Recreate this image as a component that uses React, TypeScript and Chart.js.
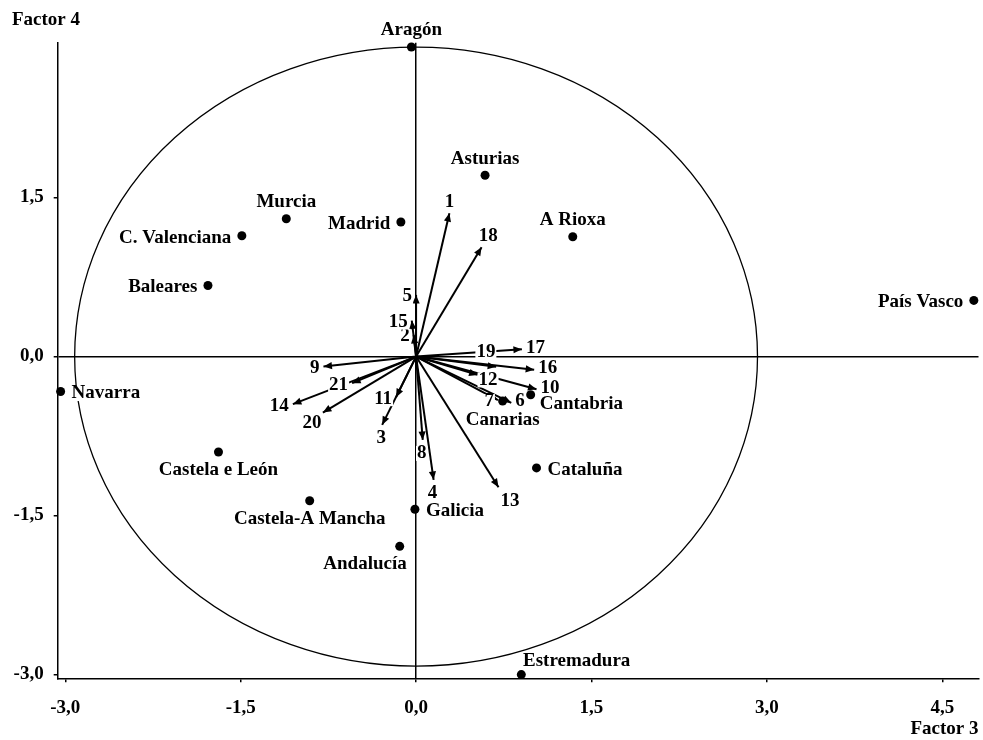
import React, { useEffect, useRef } from 'react';
import { Chart, registerables } from 'chart.js';

Chart.register(...registerables);

// ---- Data (Factor 3 = x, Factor 4 = y) ----
const regionNames = [
  'Aragón', 'Asturias', 'A Rioxa', 'Murcia', 'Madrid', 'C. Valenciana', 'Baleares',
  'Navarra', 'Castela e León', 'Castela-A Mancha', 'Galicia', 'Andalucía',
  'Estremadura', 'País Vasco', 'Cantabria', 'Cataluña', 'Canarias',
];
const regionFactor3 = [-0.04, 0.59, 1.34, -1.11, -0.13, -1.49, -1.78, -3.04, -1.69, -0.91, -0.01, -0.14, 0.90, 4.77, 0.98, 1.03, 0.74];
const regionFactor4 = [2.92, 1.71, 1.13, 1.30, 1.27, 1.14, 0.67, -0.33, -0.90, -1.36, -1.44, -1.79, -3.00, 0.53, -0.36, -1.05, -0.42];
const regionLabelPlacement = [
  'top', 'top', 'top', 'top', 'left', 'left', 'left', 'right', 'bottom', 'bottom',
  'right', 'bottomLeft', 'topRight', 'left', 'rightBelow', 'right', 'bottom',
];

const variableNames = ['1', '2', '3', '4', '5', '6', '7', '8', '9', '10', '11', '12', '13', '14', '15', '16', '17', '18', '19', '20', '21'];
const variableFactor3 = [0.285, -0.02, -0.29, 0.15, 0.0, 0.814, 0.70, 0.057, -0.792, 1.03, -0.171, 0.526, 0.705, -1.054, -0.037, 1.01, 0.905, 0.56, 0.685, -0.797, -0.547];
const variableFactor4 = [1.353, 0.205, -0.644, -1.163, 0.582, -0.436, -0.41, -0.786, -0.094, -0.308, -0.383, -0.173, -1.232, -0.449, 0.34, -0.125, 0.07, 1.032, -0.097, -0.528, -0.251];
const variableLabelPlacement = [
  'top', 'left', 'bottom', 'bottom', 'left', 'right', 'left', 'bottom', 'left', 'right',
  'left', 'rightBelow', 'bottomRight', 'left', 'left', 'right', 'right', 'topRight', 'topLeft', 'bottomLeft', 'left',
];

const xTickValues = [-3, -1.5, 0, 1.5, 3, 4.5];
const yTickValues = [-3, -1.5, 0, 1.5];
const circleRadius = 2.92;
const xAxisTitle = 'Factor 3';
const yAxisTitle = 'Factor 4';

const FAMILY = '"Liberation Serif", "Times New Roman", serif';
const FONT_SIZE = 19;

function fmt(v: number) {
  return v.toFixed(1).replace('.', ',');
}

// label offsets (px) per placement keyword
const regionOffsets: any = {
  top: { mode: 'center', dx: 0, dy: -16.5 },
  bottom: { mode: 'center', dx: 0, dy: 18.5 },
  left: { mode: 'rightEdge', dx: -10.5, dy: 2 },
  right: { mode: 'leftEdge', dx: 11, dy: 2 },
  bottomLeft: { mode: 'rightEdge', dx: 7, dy: 17.3 },
  topRight: { mode: 'leftEdge', dx: 1.7, dy: -13.6 },
  rightBelow: { mode: 'leftEdge', dx: 9, dy: 9 },
};
const variableOffsets: any = {
  top: { mode: 'center', dx: 0, dy: -11 },
  bottom: { mode: 'center', dx: -1, dy: 13.5 },
  left: { mode: 'rightEdge', dx: -4, dy: 1.5 },
  right: { mode: 'leftEdge', dx: 4, dy: -1.5 },
  topRight: { mode: 'center', dx: 6.7, dy: -10.6 },
  topLeft: { mode: 'center', dx: -10.3, dy: -14.3 },
  bottomRight: { mode: 'center', dx: 11.4, dy: 14.4 },
  bottomLeft: { mode: 'center', dx: -11, dy: 10.6 },
  rightBelow: { mode: 'leftEdge', dx: 1, dy: 5 },
};

function drawLabel(ctx: CanvasRenderingContext2D, text: string, px: number, py: number, off: any) {
  const w = ctx.measureText(text).width;
  let cx = px + off.dx;
  if (off.mode === 'rightEdge') cx = px + off.dx - w / 2;
  if (off.mode === 'leftEdge') cx = px + off.dx + w / 2;
  const cy = py + off.dy;
  const h = 15;
  ctx.fillStyle = '#ffffff';
  ctx.fillRect(cx - w / 2 - 1, cy - h / 2, w + 2, h);
  ctx.fillStyle = '#000000';
  ctx.fillText(text, cx, cy);
}

export default function App() {
  const canvasRef = useRef<HTMLCanvasElement>(null);

  useEffect(() => {
    const canvas = canvasRef.current;
    if (!canvas) return;

    const circlePlugin = {
      id: 'circlePlugin',
      beforeDatasetsDraw(chart: any) {
        const { ctx } = chart;
        const xs = chart.scales.x;
        const ys = chart.scales.y;
        const cx = xs.getPixelForValue(0);
        const cy = ys.getPixelForValue(0);
        const rx = xs.getPixelForValue(circleRadius) - cx;
        const ry = cy - ys.getPixelForValue(circleRadius);
        ctx.save();
        ctx.beginPath();
        ctx.ellipse(cx, cy, rx, ry, 0, 0, Math.PI * 2);
        ctx.lineWidth = 1.3;
        ctx.strokeStyle = '#000';
        ctx.stroke();
        ctx.restore();
      },
    };

    const arrowPlugin = {
      id: 'arrowPlugin',
      afterDatasetDraw(chart: any, args: any) {
        const ds = chart.data.datasets[args.index];
        if (!ds.isArrow) return;
        const pts = args.meta.data;
        if (!pts || pts.length < 2) return;
        const a = pts[0];
        const b = pts[1];
        const ang = Math.atan2(b.y - a.y, b.x - a.x);
        const L = 8.5;
        const W = 3.6;
        const bx = b.x - L * Math.cos(ang);
        const by = b.y - L * Math.sin(ang);
        const ctx = chart.ctx;
        ctx.save();
        ctx.beginPath();
        ctx.moveTo(b.x, b.y);
        ctx.lineTo(bx + W * Math.sin(ang), by - W * Math.cos(ang));
        ctx.lineTo(bx - W * Math.sin(ang), by + W * Math.cos(ang));
        ctx.closePath();
        ctx.fillStyle = '#000';
        ctx.fill();
        ctx.restore();
      },
    };

    const labelPlugin = {
      id: 'labelPlugin',
      afterDatasetsDraw(chart: any) {
        const ctx = chart.ctx;
        ctx.save();
        ctx.font = `bold ${FONT_SIZE}px ${FAMILY}`;
        ctx.textAlign = 'center';
        ctx.textBaseline = 'middle';
        chart.data.datasets.forEach((ds: any, i: number) => {
          if (!ds.isArrow) return;
          const meta = chart.getDatasetMeta(i);
          const tip = meta.data[1];
          drawLabel(ctx, ds.varName, tip.x, tip.y, variableOffsets[ds.placement]);
        });
        const rmeta = chart.getDatasetMeta(0);
        rmeta.data.forEach((pt: any, j: number) => {
          drawLabel(ctx, regionNames[j], pt.x, pt.y, regionOffsets[regionLabelPlacement[j]]);
        });
        ctx.restore();
      },
    };

    const regionDataset: any = {
      label: 'Rexións',
      data: regionNames.map((_, i) => ({ x: regionFactor3[i], y: regionFactor4[i] })),
      showLine: false,
      pointRadius: 4.5,
      pointHoverRadius: 4.5,
      pointBackgroundColor: '#000',
      pointBorderColor: '#000',
      pointBorderWidth: 0,
      clip: false,
    };

    const arrowDatasets: any[] = variableNames.map((name, i) => ({
      label: name,
      isArrow: true,
      varName: name,
      placement: variableLabelPlacement[i],
      data: [
        { x: 0, y: 0 },
        { x: variableFactor3[i], y: variableFactor4[i] },
      ],
      showLine: true,
      borderColor: '#000',
      borderWidth: 2,
      pointRadius: 0,
      pointHoverRadius: 0,
      fill: false,
      clip: false,
    }));

    const tickFont = { family: FAMILY, size: FONT_SIZE, weight: 'bold' as const };

    const chart = new Chart(canvas, {
      type: 'scatter',
      data: { datasets: [regionDataset, ...arrowDatasets] },
      options: {
        responsive: false,
        animation: false,
        events: [],
        layout: { padding: { left: 12, right: 3, top: 0, bottom: 0 } },
        plugins: {
          legend: { display: false },
          tooltip: { enabled: false },
          title: {
            display: true,
            text: yAxisTitle,
            align: 'start',
            color: '#000',
            font: { family: FAMILY, size: FONT_SIZE, weight: 'bold' },
            padding: { top: 9, bottom: 11 },
          },
        },
        scales: {
          x: {
            type: 'linear',
            min: -3.065,
            max: 4.81,
            afterBuildTicks: (axis: any) => {
              axis.ticks = xTickValues.map((v) => ({ value: v }));
            },
            afterFit: (axis: any) => {
              axis.height = 61.7;
            },
            ticks: {
              color: '#000',
              font: tickFont,
              padding: 14,
              maxRotation: 0,
              autoSkip: false,
              callback: (v: any) => fmt(Number(v)),
            },
            grid: {
              color: (c: any) => (c.tick && c.tick.value === 0 ? '#000' : 'rgba(0,0,0,0)'),
              lineWidth: 1.5,
              tickColor: '#000',
              tickLength: 4,
              tickWidth: 1.5,
              drawTicks: true,
            },
            border: { display: true, color: '#000', width: 1.5 },
            title: {
              display: true,
              text: xAxisTitle,
              align: 'end',
              color: '#000',
              font: { family: FAMILY, size: FONT_SIZE, weight: 'bold' },
              padding: { top: 0, bottom: 0 },
            },
          },
          y: {
            type: 'linear',
            min: -3.035,
            max: 2.96,
            afterBuildTicks: (axis: any) => {
              axis.ticks = yTickValues.map((v) => ({ value: v }));
            },
            afterFit: (axis: any) => {
              axis.width = 45.7;
            },
            ticks: {
              color: '#000',
              font: tickFont,
              padding: 10,
              autoSkip: false,
              callback: (v: any) => fmt(Number(v)),
            },
            grid: {
              color: (c: any) => (c.tick && c.tick.value === 0 ? '#000' : 'rgba(0,0,0,0)'),
              lineWidth: 1.5,
              tickColor: '#000',
              tickLength: 4,
              tickWidth: 1.5,
              drawTicks: true,
            },
            border: { display: true, color: '#000', width: 1.5 },
          },
        },
      } as any,
      plugins: [circlePlugin, arrowPlugin, labelPlugin],
    });

    return () => chart.destroy();
  }, []);

  return (
    <div style={{ position: 'fixed', left: 0, top: 0, width: 983, height: 740, background: '#fff' }}>
      <canvas ref={canvasRef} width={983} height={740} style={{ width: 983, height: 740, display: 'block' }} />
    </div>
  );
}
